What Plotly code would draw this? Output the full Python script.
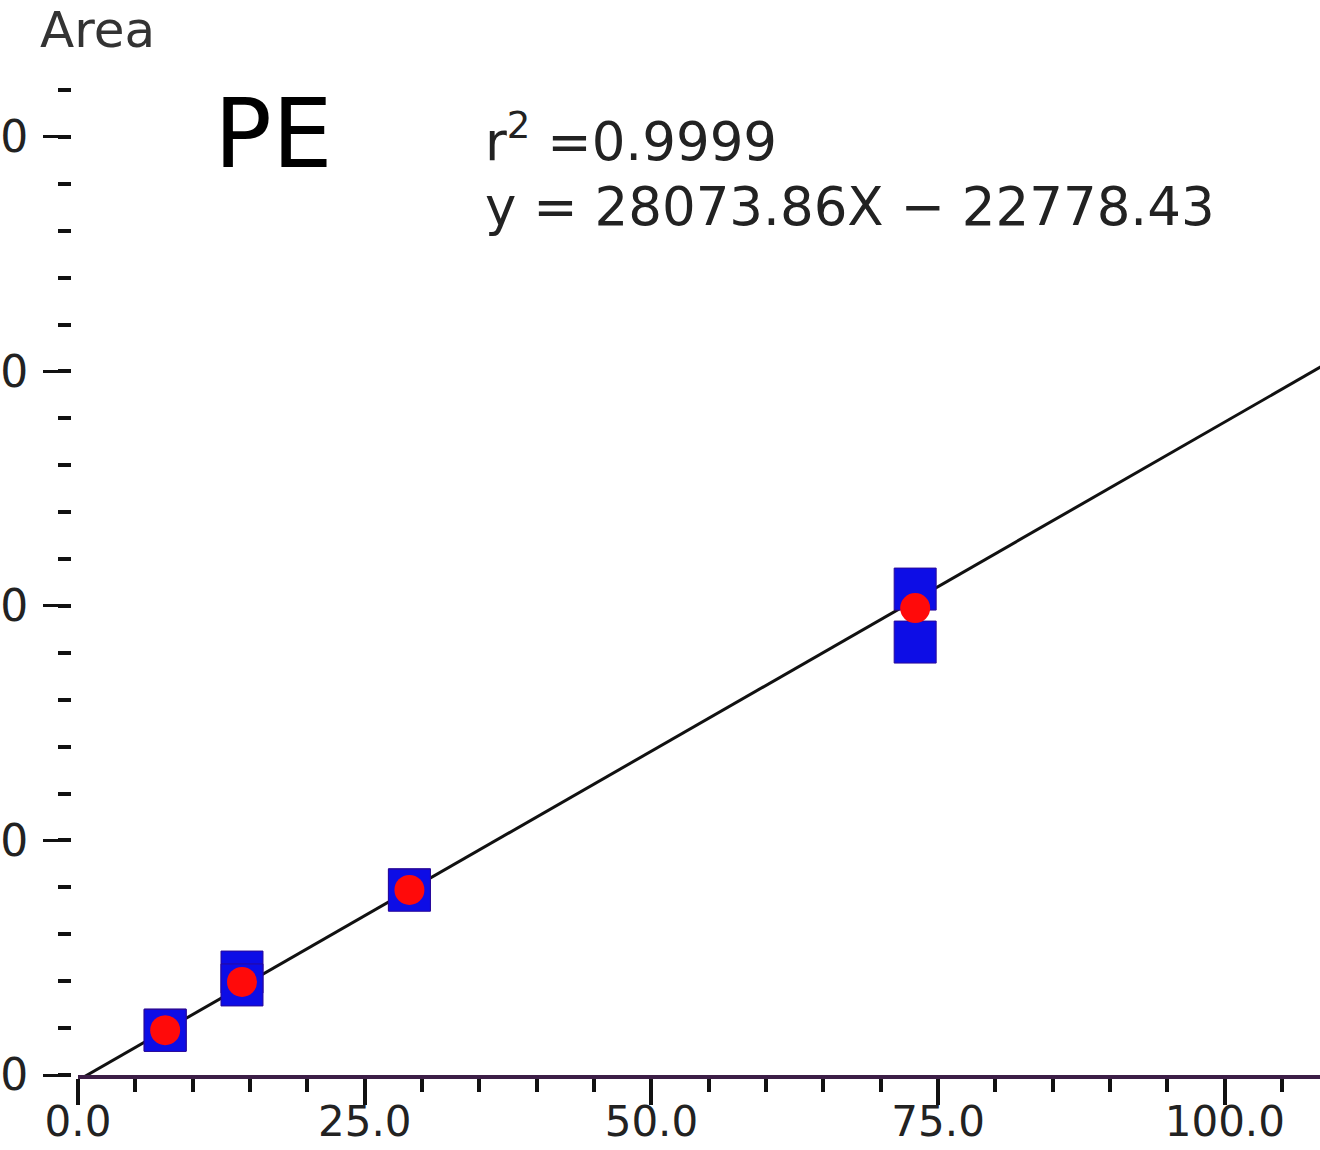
import plotly.graph_objects as go

# Calibration standards for PE: concentration vs. peak area
conc_replicates = [7.6, 7.6, 14.3, 14.3, 28.9, 28.9, 73.0, 73.0]
area_replicates = [192000, 190000, 439000, 384000, 790000, 788000, 2072000, 1846000]

conc_mean = [7.6, 14.3, 28.9, 73.0]
area_mean = [191000, 397000, 789000, 1991000]

# Fitted calibration line
slope = 28073.86
intercept = -22778.43
r_squared = 0.9999

x_ticks = [0, 25, 50, 75, 100]
x_ticktext = ["0.0", "25.0", "50.0", "75.0", "100.0"]
y_ticks = [0, 1000000, 2000000, 3000000, 4000000]
y_ticktext = ["0", "1000000", "2000000", "3000000", "4000000"]

W, H = 1320, 1150
PLOT_BOTTOM = 1075  # pixel row of the x axis
PLOT_TOP = 50       # pixel row of the top of the plotting area
X_LEFT = 78         # pixel column where the x range starts
X_MAX = 108.3
Y_PER_PX = 4264.0
Y_MAX = (PLOT_BOTTOM - PLOT_TOP) * Y_PER_PX

fit_x = [0, 115]
fit_y = [slope * v + intercept for v in fit_x]

fig = go.Figure()
fig.add_trace(go.Scatter(
    x=fit_x, y=fit_y, mode="lines",
    line=dict(color="#111111", width=3),
    hoverinfo="skip", showlegend=False,
))
fig.add_trace(go.Scatter(
    x=conc_replicates, y=area_replicates, mode="markers",
    marker=dict(symbol="square", size=42, color="#0d0de6",
                line=dict(color="#2a0a9a", width=1)),
    showlegend=False,
))
fig.add_trace(go.Scatter(
    x=conc_mean, y=area_mean, mode="markers",
    marker=dict(symbol="circle", size=30, color="#ff0a0a", line=dict(width=0)),
    showlegend=False,
))

def px(x):
    return x / W

def py(y):
    return (PLOT_BOTTOM - y) / (PLOT_BOTTOM - PLOT_TOP)

fig.update_layout(
    width=W, height=H,
    margin=dict(l=0, r=0, t=PLOT_TOP, b=H - PLOT_BOTTOM, pad=0),
    paper_bgcolor="white", plot_bgcolor="white",
    font=dict(family="DejaVu Sans", color="#222222"),
    xaxis=dict(
        domain=[px(X_LEFT), 1], range=[0, X_MAX], automargin=False,
        showgrid=False, zeroline=False,
        showline=True, linecolor="#3c1e46", linewidth=4,
        ticks="outside", ticklen=26, tickwidth=4, tickcolor="#111111",
        tickvals=x_ticks, ticktext=x_ticktext,
        tickfont=dict(size=42, color="#222222"),
        ticklabelstandoff=-19,
        minor=dict(dtick=5, tick0=0, ticks="outside", ticklen=13,
                   tickwidth=4, tickcolor="#111111", showgrid=False),
    ),
    yaxis=dict(
        domain=[0, 1], range=[0, Y_MAX], automargin=False,
        anchor="free", position=px(71),
        showgrid=False, zeroline=False, showline=False,
        ticks="outside", ticklen=28, tickwidth=3, tickcolor="#111111",
        tickvals=y_ticks, ticktext=y_ticktext,
        tickfont=dict(size=44, color="#222222"),
        ticklabelstandoff=6,
        minor=dict(dtick=200000, tick0=0, ticks="outside", ticklen=13,
                   tickwidth=4, tickcolor="#111111", showgrid=False),
    ),
    annotations=[
        dict(text="Area", xref="paper", yref="paper", x=px(38), y=py(30),
             xanchor="left", yanchor="middle", showarrow=False,
             font=dict(size=50, color="#333333")),
        dict(text="PE", xref="paper", yref="paper", x=px(212), y=py(134),
             xanchor="left", yanchor="middle", showarrow=False,
             font=dict(size=96, color="#000000")),
        dict(text=f"r<sup>2</sup> ={r_squared}", xref="paper", yref="paper",
             x=px(483), y=py(138), xanchor="left", yanchor="middle",
             showarrow=False, font=dict(size=53, color="#222222")),
        dict(text=f"y = {slope:.2f}X − {abs(intercept):.2f}", xref="paper",
             yref="paper", x=px(483), y=py(206), xanchor="left",
             yanchor="middle", showarrow=False,
             font=dict(size=53, color="#222222")),
    ],
)

fig.write_html("out.html")
